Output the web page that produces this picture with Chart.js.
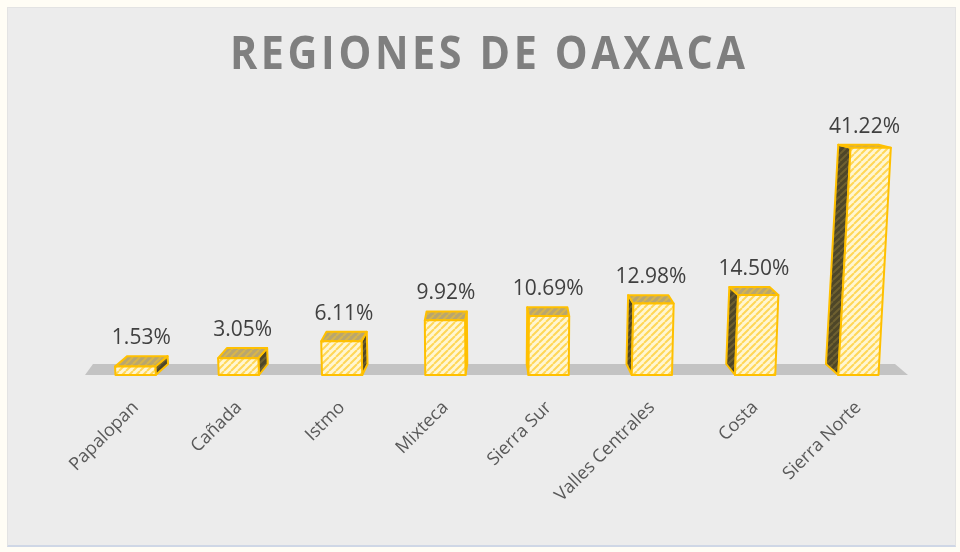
<!DOCTYPE html>
<html>
<head>
<meta charset="utf-8">
<script src="https://cdn.jsdelivr.net/npm/chart.js@4"></script>
<style>
  html, body { margin: 0; padding: 0; background: #fff; }
  #wrap { position: relative; width: 960px; height: 552px; background: #fffdf5; }
  #frame { position: absolute; left: 7px; top: 7px; width: 947px; height: 537px; background: #ececec; border: 1px solid #e3e3e3; border-bottom: 2px solid #cfd7e6; }
  #chart { position: absolute; left: 0; top: 0; }
</style>
</head>
<body>
<div id="wrap">
  <div id="frame"></div>
  <canvas id="chart" width="960" height="552"></canvas>
</div>
<script>
const titleText = "REGIONES DE OAXACA";
const regions = ["Papalopan", "Cañada", "Istmo", "Mixteca", "Sierra Sur", "Valles Centrales", "Costa", "Sierra Norte"];
const percentages = [1.53, 3.05, 6.11, 9.92, 10.69, 12.98, 14.50, 41.22];
const yMax = 45;

function stripes(bg, fg) {
    const s = 7;
    const c = document.createElement("canvas");
    c.width = s;
    c.height = s;
    const g = c.getContext("2d");
    g.fillStyle = bg;
    g.fillRect(0, 0, s, s);
    g.strokeStyle = fg;
    g.lineWidth = 2;
    g.beginPath();
    [-s, 0, s].forEach((k) => {
        g.moveTo(k, s);
        g.lineTo(k + s, 0);
    });
    g.stroke();
    return g.createPattern(c, "repeat");
}

const fronts = stripes("#fff6d2", "#ffd757");
const sides = stripes("#4e4628", "#6e6030");
const tops = stripes("#b9a66e", "#d6b54c");
const edge = "#ffc000";

function poly(ctx, pts, fill) {
    ctx.beginPath();
    ctx.moveTo(pts[0][0], pts[0][1]);
    pts.slice(1).forEach((p) => ctx.lineTo(p[0], p[1]));
    ctx.closePath();
    ctx.fillStyle = fill;
    ctx.fill();
    ctx.stroke();
}

// fake 3d bars drawn from the bar elements
const bars3d = {
    id: "bars3d",
    beforeDatasetsDraw(chart) {
        const ctx = chart.ctx;
        const area = chart.chartArea;
        const vp = (area.left + area.right) / 2;
        const floorY = chart.scales.y.getPixelForValue(0);

        // floor
        ctx.save();
        ctx.beginPath();
        ctx.moveTo(area.left + 1, floorY);
        ctx.lineTo(area.right - 2, floorY);
        ctx.lineTo(area.right - 15, floorY - 11);
        ctx.lineTo(area.left + 9, floorY - 11);
        ctx.closePath();
        ctx.fillStyle = "#c3c3c3";
        ctx.fill();

        ctx.lineWidth = 2;
        ctx.lineJoin = "round";
        ctx.strokeStyle = edge;
        const meta = chart.getDatasetMeta(0);
        meta.data.forEach((el, i) => {
            const cx = el.x;
            const w = el.width;
            const top = el.y;
            const bot = el.base;
            const lean = (cx - vp) * (bot - top) * 0.00015;
            const dx = (vp - cx) * 0.034;
            const dyTop = -(3 + (top - 148) * 0.034);
            const dyBot = -11;

            const bl = [cx - w / 2, bot];
            const br = [cx + w / 2, bot];
            const tl = [cx - w / 2 + lean, top];
            const tr = [cx + w / 2 + lean, top];

            if (cx < vp) {
                poly(ctx, [br, tr, [tr[0] + dx, top + dyTop], [br[0] + dx, bot + dyBot]], sides);
            } else {
                poly(ctx, [bl, tl, [tl[0] + dx, top + dyTop], [bl[0] + dx, bot + dyBot]], sides);
            }
            poly(ctx, [tl, tr, [tr[0] + dx, top + dyTop], [tl[0] + dx, top + dyTop]], tops);
            poly(ctx, [bl, br, tr, tl], fronts);

            ctx.fillStyle = "#404040";
            ctx.font = '21px "Open Sans"';
            ctx.textAlign = "center";
            ctx.textBaseline = "middle";
            ctx.fillText(percentages[i].toFixed(2) + "%", cx + lean + dx / 2, top + dyTop - 18);
        });
        ctx.restore();
        return false;
    },
    afterDraw(chart) {
        const ctx = chart.ctx;
        ctx.save();
        ctx.font = 'bold 46px "Open Sans"';
        ctx.letterSpacing = "4px";
        ctx.fillStyle = "#7f7f7f";
        ctx.textBaseline = "middle";
        const tw = ctx.measureText(titleText).width - 4;
        const want = 515;
        ctx.translate(487.5 - want / 2, 56);
        ctx.scale(want / tw, 1);
        ctx.fillText(titleText, 0, 0);
        ctx.restore();
    },
};

new Chart(document.getElementById("chart"), {
    type: "bar",
    data: {
        labels: regions,
        datasets: [
            {
                data: percentages,
                backgroundColor: "rgba(0,0,0,0)",
                borderWidth: 0,
                categoryPercentage: 1,
                barPercentage: 0.39,
            },
        ],
    },
    options: {
        responsive: false,
        animation: false,
        layout: { padding: { top: 127, left: 84, right: 50, bottom: 0 } },
        plugins: { legend: { display: false }, tooltip: { enabled: false } },
        scales: {
            y: { display: false, min: 0, max: yMax },
            x: {
                grid: { display: false },
                border: { display: false },
                ticks: {
                    color: "#595959",
                    font: { family: "Open Sans", size: 18 },
                    minRotation: 45,
                    maxRotation: 45,
                    padding: 14,
                },
                afterFit(scale) {
                    scale.height = 177;
                },
            },
        },
    },
    plugins: [bars3d],
});
</script>
</body>
</html>
